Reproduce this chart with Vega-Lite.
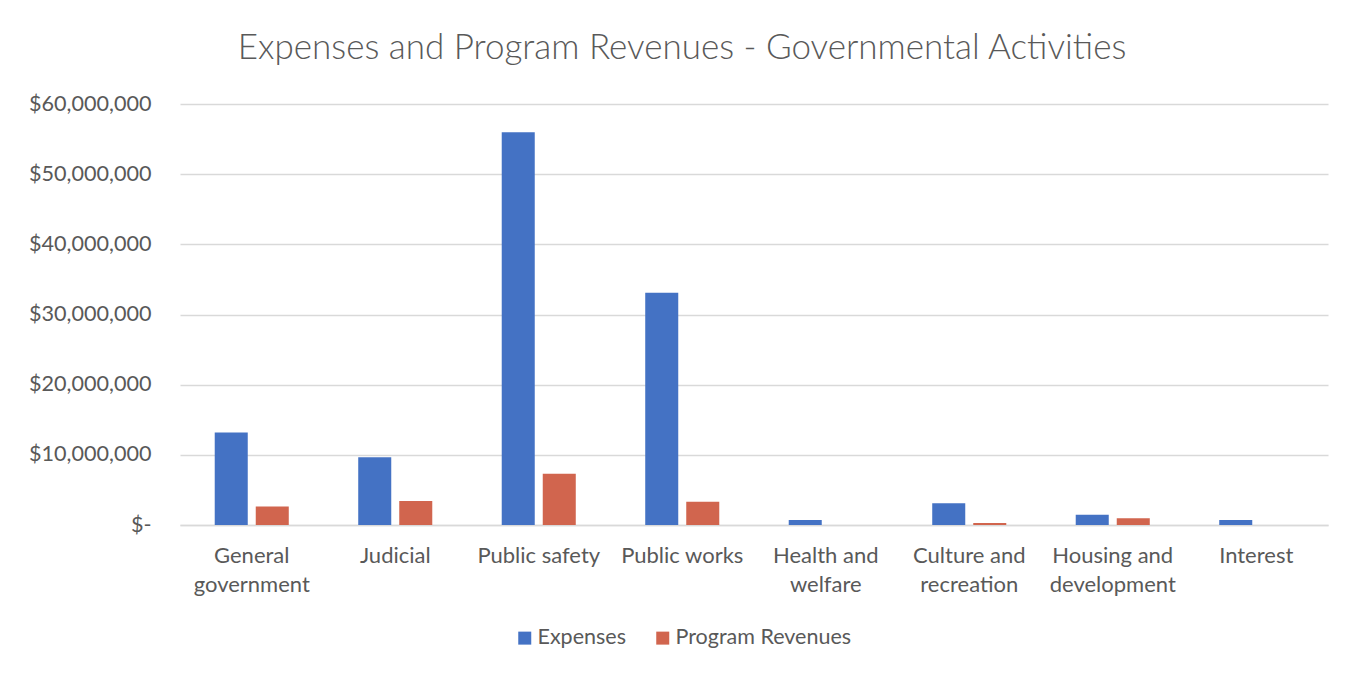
{
  "$schema": "https://vega.github.io/schema/vega-lite/v6.json",
  "autosize": "none",
  "width": 1148,
  "height": 421,
  "padding": {"left": 180, "top": 104, "right": 29, "bottom": 148},
  "background": "white",
  "title": {
    "text": "Expenses and Program Revenues - Governmental Activities",
    "anchor": "middle",
    "frame": "group",
    "dx": -72,
    "dy": 30,
    "offset": 29,
    "baseline": "alphabetic",
    "font": "Lato",
    "fontSize": 35,
    "fontWeight": 300,
    "color": "#595959"
  },
  "data": {
    "values": [
      {"category": "General government", "series": "Expenses", "amount": 13200000},
      {"category": "General government", "series": "Program Revenues", "amount": 2650000},
      {"category": "Judicial", "series": "Expenses", "amount": 9640000},
      {"category": "Judicial", "series": "Program Revenues", "amount": 3420000},
      {"category": "Public safety", "series": "Expenses", "amount": 55960000},
      {"category": "Public safety", "series": "Program Revenues", "amount": 7300000},
      {"category": "Public works", "series": "Expenses", "amount": 33100000},
      {"category": "Public works", "series": "Program Revenues", "amount": 3300000},
      {"category": "Health and welfare", "series": "Expenses", "amount": 710000},
      {"category": "Health and welfare", "series": "Program Revenues", "amount": 0},
      {"category": "Culture and recreation", "series": "Expenses", "amount": 3100000},
      {"category": "Culture and recreation", "series": "Program Revenues", "amount": 270000},
      {"category": "Housing and development", "series": "Expenses", "amount": 1450000},
      {"category": "Housing and development", "series": "Program Revenues", "amount": 950000},
      {"category": "Interest", "series": "Expenses", "amount": 700000},
      {"category": "Interest", "series": "Program Revenues", "amount": 0}
    ]
  },
  "mark": {"type": "bar"},
  "encoding": {
    "x": {
      "field": "category",
      "type": "nominal",
      "sort": null,
      "title": null,
      "scale": {"paddingInner": 0.484, "paddingOuter": 0.242},
      "axis": {
        "labelAngle": 0,
        "ticks": false,
        "domainColor": "#d9d9d9",
        "domainWidth": 1.5,
        "labelFont": "Lato",
        "labelFontSize": 22,
        "labelColor": "#595959",
        "labelPadding": 20,
        "labelLineHeight": 29,
        "labelLimit": 300,
        "labelExpr": "datum.value == 'General government' ? ['General', 'government'] : datum.value == 'Health and welfare' ? ['Health and', 'welfare'] : datum.value == 'Culture and recreation' ? ['Culture and', 'recreation'] : datum.value == 'Housing and development' ? ['Housing and', 'development'] : datum.value"
      }
    },
    "xOffset": {
      "field": "series",
      "type": "nominal",
      "scale": {"paddingInner": 0.195, "paddingOuter": 0}
    },
    "y": {
      "field": "amount",
      "type": "quantitative",
      "title": null,
      "scale": {"domain": [0, 60000000], "nice": false},
      "axis": {
        "values": [0, 10000000, 20000000, 30000000, 40000000, 50000000, 60000000],
        "labelExpr": "datum.value == 0 ? '$-' : format(datum.value, '$,')",
        "domain": false,
        "ticks": false,
        "gridColor": "#d9d9d9",
        "gridWidth": 1.5,
        "labelFont": "Lato",
        "labelFontSize": 21.6,
        "labelColor": "#595959",
        "labelPadding": 29
      }
    },
    "color": {
      "field": "series",
      "type": "nominal",
      "scale": {"domain": ["Expenses", "Program Revenues"], "range": ["#4472C4", "#D1654E"]},
      "legend": {
        "title": null,
        "orient": "none",
        "direction": "horizontal",
        "legendX": 334,
        "legendY": 523,
        "symbolType": "square",
        "symbolSize": 169,
        "symbolStrokeWidth": 0,
        "symbolOpacity": 1,
        "labelFont": "Lato",
        "labelFontSize": 21.5,
        "labelColor": "#595959",
        "labelOffset": 2,
        "labelLimit": 400,
        "columnPadding": 26
      }
    }
  },
  "config": {
    "view": {"stroke": null}
  }
}
